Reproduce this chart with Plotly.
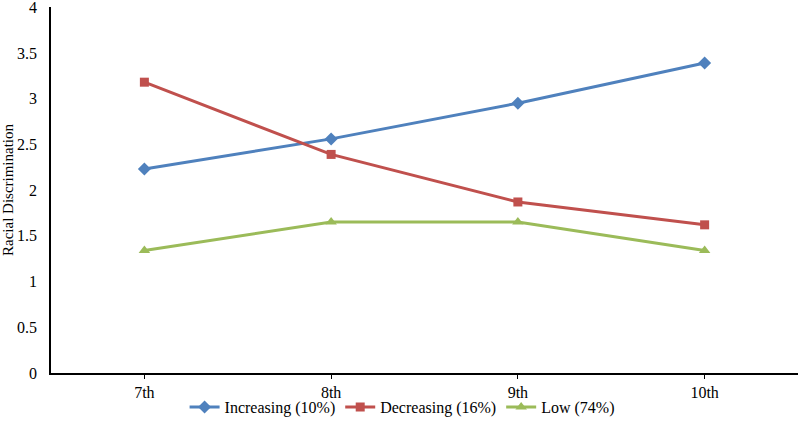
import plotly.graph_objects as go

grades = ["7th", "8th", "9th", "10th"]
increasing = [2.23, 2.56, 2.95, 3.39]
decreasing = [3.18, 2.39, 1.87, 1.62]
low = [1.34, 1.65, 1.65, 1.34]
y_ticks = [0, 0.5, 1, 1.5, 2, 2.5, 3, 3.5, 4]
y_tick_text = ["0", "0.5", "1", "1.5", "2", "2.5", "3", "3.5", "4"]

series = [
    ("Increasing (10%)", increasing, "#4F81BD", "diamond", 10),
    ("Decreasing (16%)", decreasing, "#C0504D", "square", 9),
    ("Low (74%)", low, "#9BBB59", "triangle-up", 10),
]

xpos = list(range(len(grades)))
fig = go.Figure()
for name, vals, color, sym, msize in series:
    fig.add_trace(go.Scatter(
        x=xpos, y=vals, name=name, mode="lines+markers",
        line=dict(color=color, width=3),
        marker=dict(symbol=sym, size=msize, color=color),
        cliponaxis=False,
    ))

font = "Liberation Serif"
fig.update_layout(
    width=800, height=429,
    margin=dict(l=51, r=2, t=7, b=56),
    paper_bgcolor="white", plot_bgcolor="white",
    font=dict(family=font, size=16, color="black"),
    showlegend=True,
    legend=dict(orientation="h", xanchor="center", x=0.47, yanchor="middle",
                yref="container", y=1 - 407 / 429, bgcolor="rgba(0,0,0,0)",
                font=dict(family=font, size=16), itemwidth=30, traceorder="normal"),
    xaxis=dict(
        tickmode="array", tickvals=xpos, ticktext=grades,
        range=[-0.5, len(grades) - 0.5], showgrid=False, zeroline=False,
        showline=True, linecolor="black", linewidth=1.5,
        ticks="outside", ticklen=4, tickcolor="black",
        automargin=False, ticklabeloverflow="allow",
    ),
    yaxis=dict(
        tickmode="array", tickvals=y_ticks, ticktext=y_tick_text,
        range=[0, 4.002], showgrid=False, zeroline=False,
        showline=True, linecolor="black", linewidth=1.5,
        ticks="", ticklabelstandoff=9, automargin=False, ticklabeloverflow="allow",
        title=dict(text="Racial Discrimination", font=dict(family=font, size=15), standoff=10),
    ),
)
fig.write_html("out.html", config={"displayModeBar": False},
               post_script="document.body.style.margin='0';document.body.style.overflow='hidden';")
